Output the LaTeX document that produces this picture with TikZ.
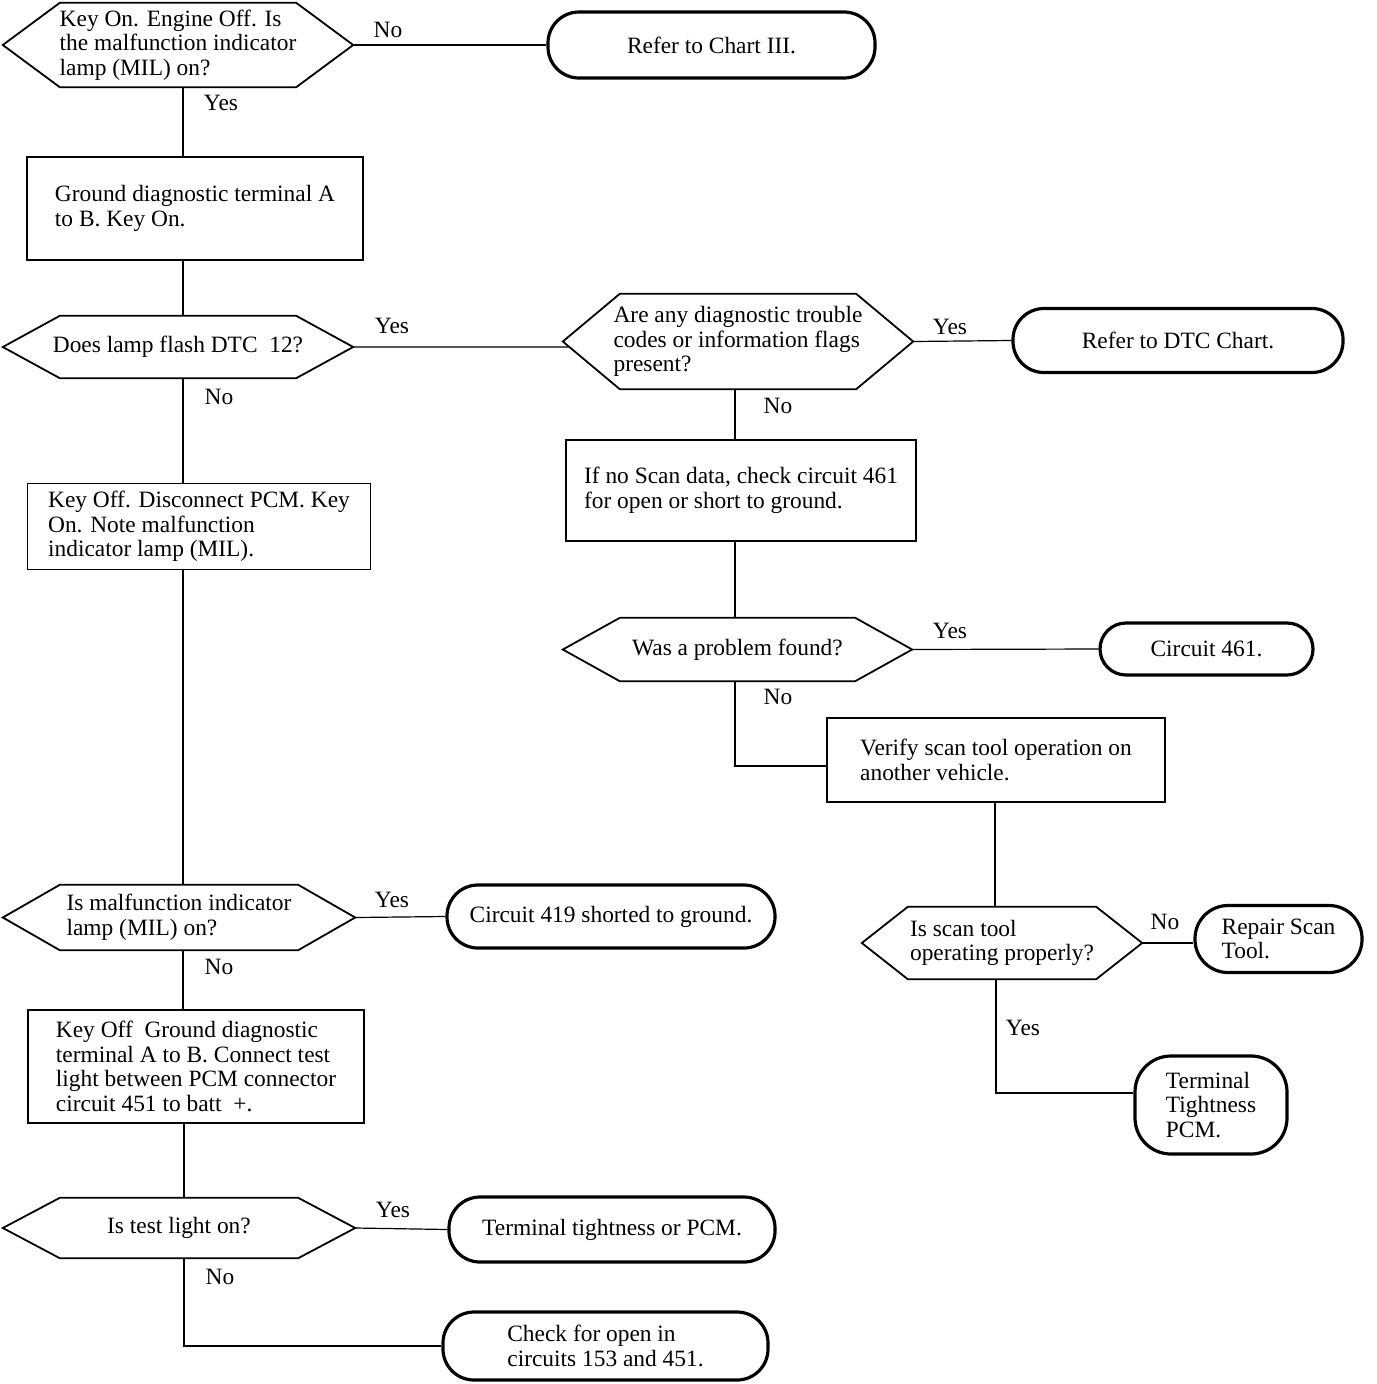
\documentclass[tikz,border=0pt]{standalone}
\usepackage{fontspec}
\setmainfont{Liberation Serif}
\usetikzlibrary{calc}
\newcommand\hexdraw[2]{\draw[hexline] (#1.west) -- ([xshift=#2]#1.north west) -- ([xshift=-#2]#1.north east) -- (#1.east) -- ([xshift=-#2]#1.south east) -- ([xshift=#2]#1.south west) -- cycle;}
\tikzset{
  txt/.style={font=\fontsize{23.4}{24.6}\selectfont, inner sep=0pt, align=left},
  hexnode/.style={txt, rectangle},
  hexline/.style={line width=1.8pt, line join=miter},
  stepbox/.style={txt, draw, line width=1.9pt, rectangle},
  term/.style={txt, draw, line width=3.2pt, rectangle, rounded corners=#1},
  term/.default=31pt,
  conn/.style={line width=1.2pt},
  lbl/.style={font=\fontsize{23.4}{24.6}\selectfont, inner sep=0pt}
}
\begin{document}
\begin{tikzpicture}[x=1pt,y=-1pt]
\useasboundingbox[fill=white] (0,0) rectangle (1376,1384);

% column coordinates
\coordinate (colA) at (183,0);
\coordinate (colB) at (184,0);
\coordinate (colC) at (735,0);
\coordinate (colD) at (995,0);
\coordinate (colE) at (996,0);

% left column
\node[hexnode, minimum width=350pt, minimum height=84pt] (d1) at (178,45)
  {Key On. Engine Off. Is\\the malfunction indicator\\lamp (MIL) on?};
\hexdraw{d1}{57}
\node[term, minimum width=327pt, minimum height=66pt] (t1) at (711.5,45) {Refer to Chart III.};

\node[stepbox, minimum width=336pt, minimum height=103pt] (b1) at (195,208.5)
  {Ground diagnostic terminal A\\to B. Key On.};

\node[hexnode, minimum width=350pt, minimum height=62pt] (d2) at (178,347)
  {Does lamp flash DTC\ \ 12?};
\hexdraw{d2}{57}

\node[stepbox, minimum width=343pt, minimum height=86pt] (b2) at (199,526.5)
  {Key Off. Disconnect PCM. Key\\On. Note malfunction\\indicator lamp (MIL).};

\node[hexnode, minimum width=352pt, minimum height=65pt] (d6) at (179,917.5)
  {Is malfunction indicator\\lamp (MIL) on?};
\hexdraw{d6}{57}
\node[term, minimum width=328pt, minimum height=63pt] (t6) at (611,916.5) {Circuit 419 shorted to ground.};

\node[stepbox, minimum width=336pt, minimum height=113pt] (b5) at (196,1066.5)
  {Key Off\ \ Ground diagnostic\\terminal A to B. Connect test\\light between PCM connector\\circuit 451 to batt\ \ +.};

\node[hexnode, minimum width=352pt, minimum height=60pt] (d7) at (179,1228)
  {Is test light on?};
\hexdraw{d7}{57}
\node[term, minimum width=326pt, minimum height=65pt] (t7) at (612,1229.5) {Terminal tightness or PCM.};
\node[term, minimum width=325pt, minimum height=68pt] (t8) at (605.5,1346)
  {Check for open in\\circuits 153 and 451.};

% right column
\node[hexnode, minimum width=350pt, minimum height=95pt] (d3) at (738,341.5)
  {Are any diagnostic trouble\\codes or information flags\\present?};
\hexdraw{d3}{57}
\node[term, minimum width=330pt, minimum height=64pt] (t2) at (1178,340.5) {Refer to DTC Chart.};

\node[stepbox, minimum width=350pt, minimum height=101pt] (b3) at (741,490.5)
  {If no Scan data, check circuit 461\\for open or short to ground.};

\node[hexnode, minimum width=349pt, minimum height=63pt] (d4) at (737.5,649.5)
  {Was a problem found?};
\hexdraw{d4}{57}
\node[term, minimum width=213pt, minimum height=52pt, term=26pt] (t3) at (1206.5,649) {Circuit 461.};

\node[stepbox, minimum width=338pt, minimum height=84pt] (b4) at (996,760)
  {Verify scan tool operation on\\another vehicle.};

\node[hexnode, minimum width=280pt, minimum height=72pt] (d5) at (1002,943)
  {Is scan tool\\operating properly?};
\hexdraw{d5}{46}
\node[term, minimum width=167pt, minimum height=67pt, term=33pt] (t4) at (1278.5,939)
  {Repair Scan\\Tool.};
\node[term, minimum width=152pt, minimum height=98pt, term=36pt] (t5) at (1211,1105)
  {Terminal\\Tightness\\PCM.};

% connectors
\draw[conn] (d1.east) -- (t1.west);
\draw[conn] (d1.south -| colA) -- (b1.north -| colA);
\draw[conn] (b1.south -| colA) -- (d2.north -| colA);
\draw[conn] (d2.east) -- ($(d3.west)!0.116!([xshift=57pt]d3.south west)$);
\draw[conn] (d3.east) -- (t2.west);
\draw[conn] (d2.south -| colA) -- (b2.north -| colA);
\draw[conn] (b2.south -| colA) -- (d6.north -| colA);
\draw[conn] (d6.east) -- (t6.west);
\draw[conn] (d6.south -| colA) -- (b5.north -| colA);
\draw[conn] (b5.south -| colB) -- (d7.north -| colB);
\draw[conn] (d7.east) -- (t7.west);
\draw[conn] (d7.south -| colB) |- (t8.west);

\draw[conn] (d3.south -| colC) -- (b3.north -| colC);
\draw[conn] (b3.south -| colC) -- (d4.north -| colC);
\draw[conn] (d4.east) -- (t3.west);
\draw[conn] (d4.south -| colC) |- ([yshift=-6pt]b4.west);
\draw[conn] (b4.south -| colD) -- (d5.north -| colD);
\draw[conn] (d5.east) -- (d5.east -| t4.west);
\draw[conn] (d5.south -| colE) |- ([yshift=12pt]t5.west);

% labels
\node[lbl] (l1) at (388,30) {No};
\node[lbl] (l2) at (221,103) {Yes};
\node[lbl] (l3) at (392,326) {Yes};
\node[lbl] (l4) at (950,327) {Yes};
\node[lbl] (l5) at (219,397) {No};
\node[lbl] (l6) at (778,406) {No};
\node[lbl] (l7) at (950,631) {Yes};
\node[lbl] (l8) at (778,697) {No};
\node[lbl] (l9) at (1165,922) {No};
\node[lbl] (l10) at (1023,1028) {Yes};
\node[lbl] (l11) at (392,900) {Yes};
\node[lbl] (l12) at (219,967) {No};
\node[lbl] (l13) at (393,1210) {Yes};
\node[lbl] (l14) at (220,1277) {No};
\end{tikzpicture}
\end{document}
